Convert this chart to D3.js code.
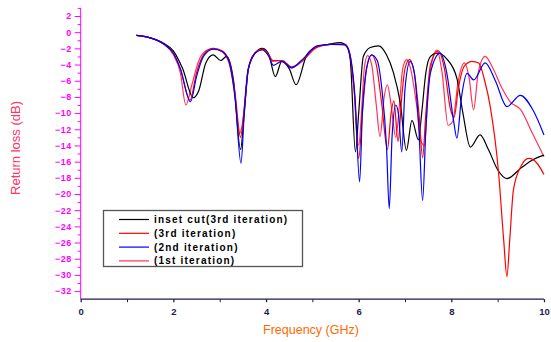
<!DOCTYPE html>
<html lang="en">
<head>
  <meta charset="UTF-8" />
  <title>Return loss</title>
  <script src="https://d3js.org/d3.v7.min.js"></script>
  <style>
    body { margin: 0; background: #fff; font-family: "Liberation Sans", Arial, sans-serif; }
  </style>
</head>
<body>
  <div id="chart"></div>
  <script>
    // series values, [frequency GHz, return loss dB]
    const insetCut = [[1.2,-0.4],[1.5,-0.7],[1.8,-1.4],[2.0,-2.3],[2.2,-4.5],[2.43,-8.1],[2.55,-7.2],[2.7,-3.8],[2.86,-2.8],[3.02,-3.5],[3.15,-3.0],[3.3,-6],[3.45,-14.5],[3.53,-10],[3.62,-4.5],[3.78,-2.5],[3.92,-2.0],[4.05,-2.6],[4.2,-5.5],[4.34,-3.6],[4.5,-4.5],[4.65,-6.5],[4.88,-2.8],[5.1,-1.8],[5.35,-1.5],[5.6,-1.3],[5.75,-1.8],[5.82,-3.5],[5.93,-14.8],[6.0,-10],[6.1,-3],[6.25,-1.9],[6.43,-1.7],[6.6,-2.8],[6.75,-5],[6.9,-8.8],[7.03,-14.6],[7.15,-10.9],[7.29,-13.3],[7.36,-10],[7.45,-5],[7.55,-3],[7.69,-2.6],[7.9,-3.3],[8.12,-5.7],[8.25,-10],[8.41,-14.2],[8.62,-12.7],[8.8,-14.5],[9.0,-17],[9.2,-18.1],[9.5,-16.8],[9.75,-15.8],[10.0,-15.2]];
    const iter3 = [[1.2,-0.4],[1.5,-0.7],[1.8,-1.5],[2.0,-2.6],[2.15,-4.5],[2.36,-8.4],[2.5,-5],[2.65,-2.8],[2.86,-2.0],[3.05,-2.3],[3.2,-3.5],[3.33,-7.5],[3.45,-13.0],[3.52,-10],[3.62,-4.5],[3.78,-2.5],[3.92,-2.1],[4.05,-2.7],[4.15,-3.5],[4.35,-3.5],[4.55,-4.3],[4.8,-3.4],[5.1,-1.8],[5.4,-1.5],[5.7,-1.5],[5.8,-2.5],[5.9,-7],[6.0,-15.6],[6.08,-10],[6.17,-4.5],[6.28,-2.8],[6.38,-4],[6.5,-9],[6.62,-14.5],[6.7,-10],[6.76,-8.5],[6.85,-13.5],[6.93,-8],[7.0,-4.5],[7.1,-3.4],[7.2,-5],[7.3,-10],[7.38,-15.5],[7.45,-10],[7.55,-4],[7.72,-2.3],[7.85,-4.5],[7.98,-9.5],[8.06,-10.5],[8.15,-7],[8.28,-4.2],[8.45,-3.6],[8.59,-3.8],[8.72,-6],[8.84,-9.2],[9.02,-17.4],[9.13,-25.7],[9.2,-30.2],[9.26,-25.7],[9.34,-19.5],[9.5,-16.6],[9.67,-15.6],[9.85,-16.2],[10.0,-17.6]];
    const iter2 = [[1.2,-0.4],[1.5,-0.7],[1.8,-1.5],[2.0,-2.6],[2.15,-4.5],[2.37,-8.6],[2.5,-5.5],[2.65,-3],[2.86,-2.1],[3.05,-2.4],[3.2,-3.6],[3.33,-8],[3.46,-16.2],[3.53,-10],[3.62,-4.5],[3.78,-2.5],[3.92,-2.2],[4.05,-2.9],[4.16,-4.1],[4.34,-3.6],[4.55,-4.4],[4.8,-3.3],[5.1,-1.7],[5.4,-1.5],[5.7,-1.5],[5.8,-2.5],[5.92,-8],[6.02,-18.5],[6.08,-10],[6.17,-4.5],[6.28,-2.8],[6.4,-3.5],[6.5,-7],[6.6,-14],[6.66,-21.8],[6.72,-13],[6.8,-9],[6.86,-10.2],[6.93,-14.8],[7.0,-7],[7.11,-3.6],[7.2,-5],[7.3,-12],[7.38,-20.8],[7.45,-12],[7.55,-5],[7.76,-2.6],[7.9,-5],[8.05,-11],[8.12,-13.1],[8.22,-8],[8.34,-5.1],[8.48,-5.9],[8.73,-3.8],[8.95,-6],[9.2,-9.2],[9.49,-7.8],[9.75,-9.5],[10.0,-12.7]];
    const iter1 = [[1.2,-0.4],[1.5,-0.7],[1.8,-1.5],[2.0,-2.8],[2.15,-5.0],[2.27,-9.0],[2.4,-6.5],[2.55,-3.5],[2.7,-2.3],[2.86,-2.0],[3.05,-2.4],[3.2,-3.8],[3.32,-7.5],[3.43,-12.5],[3.5,-11],[3.6,-5],[3.75,-2.6],[3.92,-2.1],[4.05,-2.8],[4.15,-3.6],[4.35,-3.5],[4.55,-4.4],[4.8,-3.5],[5.1,-1.9],[5.4,-1.5],[5.7,-1.6],[5.8,-2.6],[5.9,-7],[6.0,-14.0],[6.07,-9],[6.12,-4.5],[6.19,-2.9],[6.28,-4],[6.38,-9],[6.46,-12.9],[6.55,-8],[6.62,-6.5],[6.7,-9],[6.8,-13],[6.88,-9],[6.95,-4.5],[7.04,-3.4],[7.12,-4.5],[7.25,-9],[7.35,-13.5],[7.42,-14],[7.5,-7],[7.6,-3.2],[7.69,-2.2],[7.8,-5],[7.93,-11.5],[8.03,-11],[8.15,-6],[8.28,-3.8],[8.38,-5.5],[8.48,-9.6],[8.58,-5],[8.73,-3.0],[8.9,-4.5],[9.1,-7],[9.27,-8.6],[9.5,-9.6],[9.75,-12.5],[10.0,-15.4]];

    const seriesNames = ["inset cut(3rd iteration)", "(3rd iteration)", "(2nd iteration)", "(1st iteration)"];
    const seriesColors = ["#000000", "#ff0000", "#0000ff", "#ff3355"];
    const seriesData = [insetCut, iter3, iter2, iter1];

    const xTicks = [0, 2, 4, 6, 8, 10];
    const yTicks = d3.range(2, -33, -2);

    const W = 551, H = 342;
    const svg = d3.select("#chart").append("svg")
      .attr("width", W).attr("height", H);

    const x = d3.scaleLinear().domain([0, 10]).range([80.7, 544]);
    const y = d3.scaleLinear().domain([-33, 3]).range([299.2, 7.9]);

    const line = d3.line()
      .x(d => x(d[0]))
      .y(d => y(d[1]))
      .curve(d3.curveMonotoneX);

    // draw order: pink, black, red, blue
    [3, 0, 1, 2].forEach(i => {
      svg.append("path")
        .datum(seriesData[i])
        .attr("fill", "none")
        .attr("stroke", seriesColors[i])
        .attr("stroke-width", 1.2)
        .attr("d", line);
    });

    // y axis (magenta)
    const yAxis = svg.append("g")
      .attr("transform", `translate(${x(0)},0)`)
      .call(d3.axisLeft(y).tickValues(yTicks).tickSize(6).tickPadding(3));
    yAxis.selectAll("path, line").attr("stroke", "#ff00ff");
    yAxis.selectAll("text")
      .attr("fill", "#ff00ff")
      .style("font-size", "9px")
      .style("font-weight", "bold")
      .style("letter-spacing", "0.5px")
      .style("font-family", "'Liberation Sans', Arial, sans-serif");
    yAxis.select(".domain").attr("d", `M0,${y(3)}V${y(-33)}`);
    svg.append("g")
      .attr("transform", `translate(${x(0)},0)`)
      .call(d3.axisLeft(y).tickValues(d3.range(3, -33, -2)).tickSize(3).tickFormat(""))
      .call(g => g.select(".domain").remove())
      .selectAll("line").attr("stroke", "#ff00ff");

    // x axis
    const xAxis = svg.append("g")
      .attr("transform", `translate(0,${y(-33)})`)
      .call(d3.axisBottom(x).tickValues(xTicks).tickSize(3).tickPadding(6).tickFormat(d3.format("d")));
    xAxis.selectAll("path, line").attr("stroke", "#1c1c50").attr("stroke-width", 1.3);
    xAxis.select(".domain").attr("d", `M${x(0)},0H${x(10)}`);
    xAxis.selectAll("text")
      .attr("fill", "#1c1c50")
      .style("font-size", "9.5px")
      .style("font-weight", "bold")
      .style("font-family", "'Liberation Sans', Arial, sans-serif");
    svg.append("g")
      .attr("transform", `translate(0,${y(-33)})`)
      .call(d3.axisBottom(x).tickValues([1, 3, 5, 7, 9]).tickSize(3).tickFormat(""))
      .call(g => g.select(".domain").remove())
      .selectAll("line").attr("stroke", "#1c1c50");

    // axis titles
    svg.append("text")
      .attr("transform", "rotate(-90)")
      .attr("x", -148)
      .attr("y", 20)
      .attr("text-anchor", "middle")
      .attr("fill", "#ff3366")
      .style("font-size", "13px")
      .text("Return loss (dB)");

    svg.append("text")
      .attr("x", 311)
      .attr("y", 334)
      .attr("text-anchor", "middle")
      .attr("fill", "#ff6a00")
      .style("font-size", "12.5px")
      .text("Frequency (GHz)");

    // legend
    const legend = svg.append("g");
    legend.append("rect")
      .attr("x", 103.5).attr("y", 210.5)
      .attr("width", 199).attr("height", 56)
      .attr("fill", "#fff")
      .attr("stroke", "#555")
      .attr("stroke-width", 1.3);
    seriesNames.forEach((name, i) => {
      const ly = 219.5 + i * 13.8;
      legend.append("line")
        .attr("x1", 119).attr("x2", 149)
        .attr("y1", ly).attr("y2", ly)
        .attr("stroke", seriesColors[i])
        .attr("stroke-width", 1.2);
      legend.append("text")
        .attr("x", 154)
        .attr("y", ly + 3.5)
        .attr("fill", "#000")
        .style("font-size", "10px")
        .style("font-weight", "bold")
        .style("letter-spacing", "1.2px")
        .text(name);
    });
  </script>
</body>
</html>
